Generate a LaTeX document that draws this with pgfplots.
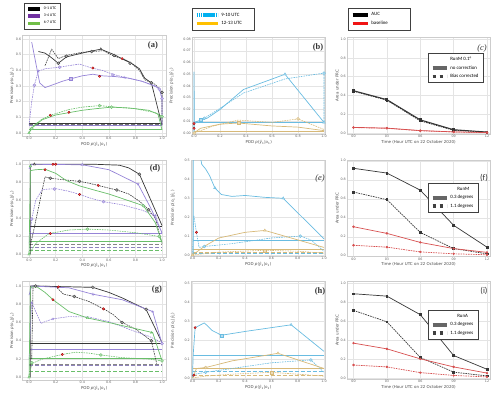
\documentclass[border=0pt]{standalone}
\usepackage{fontspec}
\setmainfont{DejaVu Sans}
\newfontfamily\calibri{Carlito}
\newfontfamily\tnr{Liberation Serif}
\usepackage{pgfplots}
\pgfplotsset{compat=1.18}
\definecolor{cblk}{RGB}{55,55,55}
\definecolor{cpur}{RGB}{150,132,215}
\definecolor{cgrn}{RGB}{105,190,105}
\definecolor{ccya}{RGB}{105,188,225}
\definecolor{cgold}{RGB}{215,185,120}
\definecolor{cred}{RGB}{215,80,80}
\definecolor{lpur}{RGB}{112,48,160}
\definecolor{lgrn}{RGB}{112,190,71}
\definecolor{lcya}{RGB}{0,176,240}
\definecolor{lgold}{RGB}{255,192,0}
\definecolor{lred}{RGB}{240,20,20}
\definecolor{gridc}{RGB}{228,228,228}
\definecolor{framec}{RGB}{205,205,205}
\newcommand{\POD}{POD \textit{p}(\textit{ŷ}\textsubscript{1}|\textit{o}\textsubscript{1})}
\newcommand{\PREC}{Precision \textit{p}(\textit{o}\textsubscript{1}|\textit{ŷ}\textsubscript{1})}
\tikzset{PL/.style={font=\tnr\bfseries\fontsize{8.5}{9}\selectfont, text=black!80}}
\pgfplotsset{
  base/.style={scale only axis, anchor=south west,
    axis line style={framec, line width=0.5pt},
    grid=major, grid style={gridc, line width=0.4pt},
    major tick length=0pt,
    tick label style={font=\fontsize{3.3}{4}\selectfont, text=black!60, inner sep=1pt},
    /pgf/number format/assume math mode=true,
    label style={font=\fontsize{4}{5}\selectfont, text=black!70, inner sep=0.6pt},
    xlabel style={yshift=-0.6pt},
    scaled ticks=false, clip=true,
    xticklabel style={/pgf/number format/fixed, /pgf/number format/fixed zerofill, /pgf/number format/precision=1},
    yticklabel style={/pgf/number format/fixed, /pgf/number format/fixed zerofill, /pgf/number format/precision=1},
    legend cell align=left,
  },
  prc/.style={base, xtick={0,0.2,0.4,0.6,0.8,1.0},
    xlabel={\POD}, ylabel={\PREC}},
  c1/.style={prc, xmin=-0.05, xmax=1.03, width=143.6pt},
  c2/.style={prc, xmin=-0.0114, xmax=1.0114, width=134.5pt, ylabel shift=8pt},
  auc/.style={base, xmin=-0.584, xmax=12.27, width=143pt,
    xtick={0,3,6,9,12}, xticklabels={00,03,06,09,12},
    ytick={0,0.2,0.4,0.6,0.8,1.0},
    xlabel={Time (Hour UTC on 22 October 2020)}, ylabel={Area under PRC},
    legend image code/.code={\draw[#1, line width=3.5pt] (0pt,0pt) -- (14pt,0pt);},
    legend style={anchor=north west, font=\calibri\fontsize{4.9}{5.6}\selectfont, draw=black!75, line width=0.7pt, inner xsep=2.5pt, inner ysep=2pt, row sep=-0.6pt}},
  S/.style={line width=0.7pt, no marks, forget plot, line join=round},
  D/.style={line width=0.6pt, dash pattern=on 1.6pt off 0.9pt, no marks, forget plot},
  BS/.style={line width=0.9pt, no marks, forget plot},
  BD/.style={line width=1.1pt, dash pattern=on 4pt off 2pt, no marks, forget plot},
  MK/.style={only marks, forget plot, mark size=1.5pt, mark options={solid, line width=0.35pt}},
  RM/.style={MK, mark=*, mark size=1.2pt, draw=red!60!black, fill=red!70},
  AS/.style={line width=0.7pt, forget plot, mark=square*, mark size=0.9pt},
  AD/.style={line width=0.7pt, forget plot, dash pattern=on 1.6pt off 0.9pt, mark=square*, mark size=0.9pt, mark options={solid}},
}
\begin{document}
\begin{tikzpicture}
\useasboundingbox (0,0) rectangle (500pt,397pt);
% ---------------- (a)
\begin{axis}[c1, at={(22.4pt,261pt)}, height=100.5pt, ymin=-0.0191, ymax=0.6223,
  ytick={0,0.1,0.2,0.3,0.4,0.5,0.6},
  legend image code/.code={\draw[#1, line width=3.5pt] (0pt,0pt) -- (12pt,0pt);},
  legend style={at={(0.011,1.323)}, anchor=north west, font=\calibri\fontsize{3.9}{4.5}\selectfont, draw=black!75, line width=0.7pt, inner xsep=2pt, inner ysep=1.5pt, row sep=-0.8pt}]
\addlegendimage{black}\addlegendentry{0-1 UTC}
\addlegendimage{lpur}\addlegendentry{3-4 UTC}
\addlegendimage{lgrn}\addlegendentry{6-7 UTC}
\addplot[BS, cblk] coordinates {(0,0.06)(1,0.06)};
\addplot[BD, cblk!70] coordinates {(0,0.055)(1,0.055)};
\addplot[BS, cpur] coordinates {(0,0.05)(1,0.05)};
\addplot[BD, cpur!80!gray] coordinates {(0,0.048)(1,0.048)};
\addplot[BS, cgrn] coordinates {(0,0.02)(1,0.02)};
\addplot[BD, cgrn] coordinates {(0,0.025)(1,0.025)};
\addplot[S, cblk] coordinates {(0.07,0.52)(0.12,0.51)(0.17,0.48)(0.22,0.445)(0.28,0.485)(0.35,0.50)(0.45,0.52)(0.54,0.535)(0.64,0.50)(0.72,0.465)(0.78,0.44)(0.83,0.41)(0.87,0.35)(0.92,0.32)(1.0,0.05)};
\addplot[D, cblk] coordinates {(0.12,0.43)(0.17,0.535)(0.22,0.475)(0.28,0.495)(0.4,0.515)(0.47,0.52)(0.56,0.525)(0.64,0.49)(0.72,0.47)(0.77,0.445)(0.83,0.40)(0.87,0.34)(0.95,0.31)(1.0,0.26)(1.0,0.05)};
\addplot[S, cpur] coordinates {(0.02,0.58)(0.05,0.45)(0.08,0.32)(0.12,0.29)(0.17,0.305)(0.25,0.33)(0.31,0.345)(0.4,0.365)(0.48,0.375)(0.55,0.365)(0.65,0.36)(0.75,0.35)(0.85,0.33)(0.95,0.30)(0.98,0.28)(1.0,0.22)(1.0,0.05)};
\addplot[D, cpur] coordinates {(0.0,0.05)(0.02,0.2)(0.04,0.305)(0.07,0.395)(0.12,0.41)(0.23,0.42)(0.3,0.43)(0.38,0.44)(0.47,0.415)(0.55,0.40)(0.63,0.375)(0.72,0.355)(0.85,0.33)(0.98,0.285)(1.0,0.22)};
\addplot[S, cgrn] coordinates {(0.0,0.0)(0.02,0.03)(0.06,0.06)(0.1,0.085)(0.2,0.115)(0.3,0.13)(0.4,0.145)(0.5,0.155)(0.62,0.165)(0.75,0.16)(0.9,0.145)(0.97,0.12)(1.0,0.02)};
\addplot[D, cgrn] coordinates {(0.0,0.0)(0.03,0.045)(0.1,0.09)(0.16,0.113)(0.3,0.15)(0.4,0.165)(0.53,0.175)(0.65,0.165)(0.8,0.155)(0.95,0.13)(1.0,0.105)};
\addplot[MK, mark=*, draw=cblk, fill=cblk!45] coordinates {(0.22,0.445)(0.28,0.49)(0.47,0.52)(0.64,0.495)(0.76,0.445)(0.92,0.32)(1.0,0.26)};
\addplot[MK, mark=triangle*, draw=cblk, fill=cblk!45] coordinates {(0.54,0.535)};
\addplot[MK, mark=*, draw=cpur, fill=cpur!50] coordinates {(0.04,0.305)(0.23,0.42)(0.63,0.37)(0.98,0.28)(1.0,0.22)};
\addplot[MK, mark=star, draw=cpur] coordinates {(0.07,0.395)(0.72,0.355)};
\addplot[MK, mark=square*, draw=cpur, fill=cpur!50] coordinates {(0.31,0.345)};
\addplot[MK, mark=*, draw=cgrn, fill=cgrn!50] coordinates {(0.02,0.03)(0.53,0.175)(0.62,0.165)(1.0,0.105)};
\addplot[MK, mark=triangle*, draw=cgrn, fill=cgrn!50] coordinates {(0,0)};
\addplot[RM] coordinates {(0.7,0.475)(0.48,0.415)(0.53,0.362)(0.16,0.113)(0.3,0.132)};
\node[PL] at (rel axis cs:0.909,0.905) {(a)};
\end{axis}
% ---------------- (b)
\begin{axis}[prc, at={(192pt,263pt)}, width=133.5pt, height=96.5pt, ylabel shift=8pt,
  xmin=-0.0154, xmax=1.0115, ymin=-0.00085, ymax=0.08128,
  ytick={0,0.01,0.02,0.03,0.04,0.05,0.06,0.07,0.08},
  yticklabel style={/pgf/number format/precision=2},
  legend image code/.code={\draw[#1, line width=3.5pt] (0pt,0pt) -- (21pt,0pt);},
  legend style={at={(0,1.306)}, anchor=north west, font=\calibri\fontsize{4.9}{5.6}\selectfont, draw=black!75, line width=0.7pt, inner xsep=2.5pt, inner ysep=2.5pt, row sep=-0.3pt}]
\addlegendimage{lcya, dash pattern=on 1.6pt off 0.5pt}\addlegendentry{\makebox[28pt][l]{9-10 UTC}}
\addlegendimage{lgold}\addlegendentry{\makebox[28pt][l]{12-13 UTC}}
\addplot[BS, ccya] coordinates {(0,0.009)(1,0.009)};
\addplot[BD, ccya] coordinates {(0,0.0088)(1,0.0088)};
\addplot[BS, cgold] coordinates {(0,0.0015)(1,0.0015)};
\addplot[BD, cgold] coordinates {(0,0.001)(1,0.001)};
\addplot[S, ccya] coordinates {(0,0)(0,0.052)(0.003,0.009)(0.05,0.011)(0.1,0.0125)(0.2,0.02)(0.38,0.037)(0.7,0.05)(1.0,0.009)};
\addplot[D, ccya] coordinates {(0,0)(0,0.008)(0.05,0.0105)(0.1,0.014)(0.2,0.021)(0.38,0.034)(0.7,0.046)(1.0,0.051)(1.0,0.009)};
\addplot[S, cgold] coordinates {(0,0)(0.05,0.004)(0.2,0.0075)(0.34,0.0085)(0.6,0.006)(0.8,0.005)(1.0,0.002)};
\addplot[D, cgold] coordinates {(0,0)(0.15,0.006)(0.34,0.011)(0.6,0.009)(0.8,0.012)(1.0,0.003)};
\addplot[MK, mark=square*, draw=ccya, fill=ccya!50] coordinates {(0.05,0.011)};
\addplot[MK, mark=*, draw=ccya, fill=ccya!50] coordinates {(0.08,0.0125)(1.0,0.051)};
\addplot[MK, mark=triangle*, draw=ccya, fill=ccya!50] coordinates {(0.7,0.05)(1.0,0.009)};
\addplot[MK, mark=square*, draw=cgold, fill=cgold!50] coordinates {(0.34,0.0085)};
\addplot[MK, mark=*, draw=cgold, fill=cgold!50] coordinates {(0.8,0.012)(0,0)};
\addplot[RM] coordinates {(0.0,0.008)(0.0,0.004)};
\node[PL] at (rel axis cs:0.944,0.90) {(b)};
\end{axis}
% ---------------- (c)
\begin{axis}[auc, at={(347pt,263pt)}, height=96.5pt, ymin=-0.0106, ymax=1.016,
  legend style={at={(0.566,0.839)}}]
\addlegendimage{empty legend}\addlegendentry{RunM 0.1°}
\addlegendimage{black!60}\addlegendentry{no correction}
\addlegendimage{black!75, dash pattern=on 3.5pt off 3.5pt}\addlegendentry{Bias corrected}
\addplot[AS, cblk, line width=1pt] coordinates {(0,0.45)(3,0.355)(6,0.14)(9,0.035)(12,0.01)};
\addplot[AD, black!80, line width=0.9pt] coordinates {(0,0.445)(3,0.35)(6,0.13)(9,0.03)(12,0.008)};
\addplot[AS, cred, mark=*, mark size=0.8pt] coordinates {(0,0.06)(3,0.052)(6,0.026)(9,0.012)(12,0.005)};
\addplot[AD, cred, mark=*, mark size=0.8pt] coordinates {(0,0.058)(3,0.05)(6,0.024)(9,0.011)(12,0.004)};
\node[font=\tnr\itshape\fontsize{8.5}{9}\selectfont, text=black!80] at (rel axis cs:0.944,0.89) {(c)};
\end{axis}
\begin{axis}[scale only axis, anchor=south west, at={(347pt,263pt)}, width=143pt, height=96.5pt, hide axis, xmin=0, xmax=1, ymin=0, ymax=1,
  legend cell align=left,
  legend image code/.code={\draw[#1, line width=3.5pt] (0pt,0pt) -- (15pt,0pt);},
  legend style={at={(0.007,1.306)}, anchor=north west, font=\calibri\fontsize{4.9}{5.6}\selectfont, draw=black!75, line width=0.7pt, inner xsep=2.5pt, inner ysep=2.5pt, row sep=-0.3pt}]
\addlegendimage{black}\addlegendentry{\makebox[34pt][l]{AUC}}
\addlegendimage{lred}\addlegendentry{\makebox[34pt][l]{baseline}}
\end{axis}
% ---------------- (d)
\begin{axis}[c1, at={(22.4pt,139.5pt)}, height=97.5pt, ymin=-0.0356, ymax=1.0478,
  ytick={0,0.2,0.4,0.6,0.8,1.0}]
\addplot[BS, cblk] coordinates {(0,0.305)(1,0.305)};
\addplot[BS, cpur] coordinates {(0,0.235)(1,0.235)};
\addplot[BS, cgrn] coordinates {(0,0.14)(1,0.14)};
\addplot[BD, cblk!60] coordinates {(0,0.11)(1,0.11)};
\addplot[BD, cpur!70!gray] coordinates {(0,0.08)(1,0.08)};
\addplot[BD, cgrn] coordinates {(0,0.045)(1,0.045)};
\addplot[S, cblk] coordinates {(0.01,0.0)(0.01,1.0)(0.2,1.0)(0.5,1.0)(0.68,0.99)(0.75,0.96)(0.83,0.89)(1.0,0.32)};
\addplot[D, cblk] coordinates {(0.01,0.1)(0.04,0.3)(0.12,0.86)(0.16,0.845)(0.25,0.83)(0.38,0.81)(0.45,0.79)(0.52,0.765)(0.6,0.735)(0.66,0.715)(0.75,0.67)(0.83,0.59)(0.9,0.495)(0.95,0.40)(1.0,0.12)};
\addplot[S, cpur] coordinates {(0.0,0.95)(0.02,1.0)(0.4,0.995)(0.6,0.94)(0.82,0.78)(0.92,0.5)(1.0,0.24)};
\addplot[D, cpur] coordinates {(0.0,0.12)(0.02,0.39)(0.05,0.6)(0.1,0.72)(0.2,0.73)(0.3,0.70)(0.38,0.665)(0.47,0.62)(0.56,0.585)(0.7,0.55)(0.85,0.49)(0.95,0.43)(1.0,0.23)};
\addplot[S, cgrn] coordinates {(0.0,0.0)(0.01,0.93)(0.05,0.94)(0.12,0.945)(0.2,0.9)(0.28,0.82)(0.38,0.76)(0.5,0.71)(0.6,0.67)(0.72,0.61)(0.86,0.54)(0.95,0.35)(1.0,0.13)};
\addplot[D, cgrn] coordinates {(0.0,0.0)(0.05,0.12)(0.15,0.23)(0.3,0.27)(0.44,0.28)(0.6,0.27)(0.8,0.24)(0.97,0.2)(1.0,0.14)};
\addplot[MK, mark=*, draw=cblk, fill=cblk!45] coordinates {(0.16,0.845)(0.38,0.81)(0.66,0.715)(0.83,0.89)(0.9,0.495)};
\addplot[MK, mark=triangle*, draw=cblk, fill=cblk!45] coordinates {(0.04,1.0)};
\addplot[MK, mark=*, draw=cpur, fill=cpur!50] coordinates {(0.02,0.39)(0.19,0.725)(0.56,0.585)};
\addplot[MK, mark=triangle*, draw=cpur, fill=cpur!50] coordinates {(0.4,0.995)};
\addplot[MK, mark=star, draw=cpur] coordinates {(0.82,0.78)(0.95,0.43)};
\addplot[MK, mark=*, draw=cgrn, fill=cgrn!50] coordinates {(0.86,0.54)(0.44,0.28)(0.98,0.2)};
\addplot[MK, mark=triangle*, draw=cgrn, fill=cgrn!50] coordinates {(0,0)(0.01,0.98)};
\addplot[RM] coordinates {(0.2,1.0)(0.18,1.0)(0.52,0.765)(0.38,0.665)(0.12,0.94)(0.16,0.23)};
\node[PL] at (rel axis cs:0.923,0.918) {(d)};
\end{axis}
% ---------------- (e)
\begin{axis}[c2, at={(191pt,141pt)}, height=96pt, ymin=-0.0053, ymax=0.5026,
  ytick={0,0.1,0.2,0.3,0.4,0.5}]
\addplot[BS, ccya] coordinates {(0,0.075)(1,0.075)};
\addplot[BD, ccya] coordinates {(0,0.01)(1,0.01)};
\addplot[BS, cgold] coordinates {(0,0.03)(1,0.03)};
\addplot[BD, cgold] coordinates {(0,0.012)(1,0.012)};
\addplot[S, ccya] coordinates {(0.005,0.0)(0.005,0.55)(0.06,0.52)(0.07,0.48)(0.1,0.455)(0.13,0.42)(0.17,0.355)(0.22,0.32)(0.3,0.31)(0.4,0.315)(0.55,0.305)(0.69,0.30)(1.0,0.085)};
\addplot[D, ccya] coordinates {(0.0,0.0)(0.01,0.21)(0.03,0.12)(0.05,0.04)(0.09,0.045)(0.3,0.06)(0.6,0.09)(0.82,0.10)(0.9,0.08)(1.0,0.02)};
\addplot[S, cgold] coordinates {(0,0)(0.1,0.05)(0.2,0.09)(0.4,0.12)(0.55,0.13)(0.8,0.08)(1.0,0.04)};
\addplot[D, cgold] coordinates {(0,0)(0.2,0.015)(0.55,0.025)(0.8,0.02)(1.0,0.01)};
\addplot[MK, mark=triangle*, draw=ccya, fill=ccya!50] coordinates {(0.17,0.355)(0.69,0.30)};
\addplot[MK, mark=*, draw=ccya, fill=ccya!50] coordinates {(0.09,0.045)(0.82,0.10)};
\addplot[MK, mark=triangle*, draw=cgold, fill=cgold!50] coordinates {(0.55,0.13)(0,0)};
\addplot[MK, mark=square*, draw=cgold, fill=cgold!50] coordinates {(0.55,0.025)};
\addplot[RM] coordinates {(0.03,0.12)};
\node[font=\tnr\itshape\fontsize{8.5}{9}\selectfont, text=black!80] at (rel axis cs:0.959,0.81) {(e)};
\end{axis}
% ---------------- (f)
\begin{axis}[auc, at={(347pt,140.5pt)}, height=96.5pt, ymin=-0.0084, ymax=1.0074,
  legend style={at={(0.566,0.762)}}]
\addlegendimage{empty legend}\addlegendentry{\hspace{7pt}RunM}
\addlegendimage{black!60}\addlegendentry{0.3 degrees}
\addlegendimage{black!75, dash pattern=on 3.5pt off 3.5pt}\addlegendentry{1.1 degrees}
\addplot[AS, cblk] coordinates {(0,0.92)(3,0.87)(6,0.69)(9,0.32)(12,0.09)};
\addplot[AD, cblk] coordinates {(0,0.67)(3,0.59)(6,0.245)(9,0.075)(12,0.02)};
\addplot[AS, cred, mark=*, mark size=0.8pt] coordinates {(0,0.305)(3,0.235)(6,0.14)(9,0.075)(12,0.035)};
\addplot[AD, cred, mark=*, mark size=0.8pt] coordinates {(0,0.11)(3,0.09)(6,0.04)(9,0.02)(12,0.01)};
\node[font=\calibri\fontsize{8.5}{9}\selectfont, text=black!80] at (rel axis cs:0.958,0.81) {(f)};
\end{axis}
% ---------------- (g)
\begin{axis}[c1, at={(22.4pt,17pt)}, height=98.5pt, ymin=-0.0296, ymax=1.0493,
  ytick={0,0.2,0.4,0.6,0.8,1.0}]
\addplot[BS, cblk] coordinates {(0,0.37)(1,0.37)};
\addplot[BS, cpur] coordinates {(0,0.305)(1,0.305)};
\addplot[BS, cgrn] coordinates {(0,0.205)(1,0.205)};
\addplot[BD, cblk!60] coordinates {(0,0.14)(1,0.14)};
\addplot[BD, cpur!70!gray] coordinates {(0,0.13)(1,0.13)};
\addplot[BD, cgrn] coordinates {(0,0.06)(1,0.06)};
\addplot[S, cblk] coordinates {(0.01,0.0)(0.01,1.0)(0.05,1.0)(0.48,0.985)(0.6,0.93)(0.7,0.87)(0.88,0.745)(1.0,0.38)};
\addplot[D, cblk] coordinates {(0.02,0.2)(0.03,1.0)(0.2,0.995)(0.26,0.91)(0.34,0.885)(0.45,0.83)(0.56,0.75)(0.63,0.69)(0.7,0.60)(0.8,0.53)(0.92,0.40)(0.96,0.15)};
\addplot[S, cpur] coordinates {(0.0,0.9)(0.02,1.0)(0.3,0.98)(0.48,0.91)(0.7,0.85)(0.93,0.72)(1.0,0.37)};
\addplot[D, cpur] coordinates {(0.0,0.2)(0.02,0.82)(0.05,0.72)(0.09,0.59)(0.12,0.61)(0.18,0.64)(0.3,0.665)(0.45,0.66)(0.6,0.61)(0.7,0.555)(0.8,0.50)(0.9,0.45)(1.0,0.38)};
\addplot[S, cgrn] coordinates {(0.0,0.0)(0.01,0.99)(0.06,0.99)(0.12,0.93)(0.18,0.85)(0.3,0.72)(0.44,0.65)(0.6,0.6)(0.75,0.55)(0.93,0.49)(1.0,0.18)};
\addplot[D, cgrn] coordinates {(0.0,0.0)(0.02,0.15)(0.1,0.2)(0.25,0.25)(0.35,0.275)(0.45,0.265)(0.54,0.245)(0.7,0.215)(0.9,0.2)(1.0,0.18)};
\addplot[MK, mark=*, draw=cblk, fill=cblk!45] coordinates {(0.05,1.0)(0.34,0.885)(0.48,0.985)(0.7,0.60)(0.88,0.745)(0.92,0.40)};
\addplot[MK, mark=star, draw=cpur] coordinates {(0.02,0.82)(0.18,0.64)(0.48,0.91)(0.93,0.72)};
\addplot[MK, mark=*, draw=cpur, fill=cpur!50] coordinates {(1.0,0.37)};
\addplot[MK, mark=triangle*, draw=cgrn, fill=cgrn!50] coordinates {(0,0)(0.44,0.65)};
\addplot[MK, mark=star, draw=cgrn] coordinates {(0.92,0.49)};
\addplot[MK, mark=*, draw=cgrn, fill=cgrn!50] coordinates {(0.54,0.245)(1.0,0.18)(0.02,0.16)};
\addplot[RM] coordinates {(0.22,0.99)(0.56,0.75)(0.18,0.85)(0.25,0.25)};
\node[PL] at (rel axis cs:0.937,0.914) {(g)};
\end{axis}
% ---------------- (h)
\begin{axis}[c2, at={(191pt,18pt)}, height=97.5pt, ymin=-0.0053, ymax=0.5079,
  ytick={0,0.1,0.2,0.3,0.4,0.5}]
\addplot[BS, ccya] coordinates {(0,0.12)(1,0.12)};
\addplot[BD, ccya] coordinates {(0,0.035)(1,0.035)};
\addplot[BS, cgold] coordinates {(0,0.05)(1,0.05)};
\addplot[BD, cgold] coordinates {(0,0.015)(1,0.015)};
\addplot[S, ccya] coordinates {(0.0,0.0)(0.005,0.12)(0.02,0.265)(0.09,0.29)(0.15,0.25)(0.22,0.225)(0.4,0.245)(0.75,0.28)(1.0,0.14)};
\addplot[D, ccya] coordinates {(0.0,0.0)(0.02,0.02)(0.1,0.03)(0.3,0.05)(0.6,0.08)(0.9,0.095)(1.0,0.03)};
\addplot[S, cgold] coordinates {(0,0)(0.03,0.05)(0.1,0.055)(0.3,0.09)(0.65,0.13)(1.0,0.05)};
\addplot[D, cgold] coordinates {(0,0)(0.1,0.01)(0.3,0.02)(0.6,0.03)(1.0,0.01)};
\addplot[MK, mark=square*, draw=ccya, fill=ccya!50] coordinates {(0.22,0.225)};
\addplot[MK, mark=triangle*, draw=ccya, fill=ccya!50] coordinates {(0.75,0.28)};
\addplot[MK, mark=*, draw=ccya, fill=ccya!50] coordinates {(0.9,0.095)(0.1,0.03)};
\addplot[MK, mark=triangle*, draw=cgold, fill=cgold!50] coordinates {(0.65,0.13)};
\addplot[MK, mark=square*, draw=cgold, fill=cgold!50] coordinates {(0.6,0.03)};
\addplot[MK, mark=*, draw=cgold, fill=cgold!50] coordinates {(0.1,0.055)};
\addplot[RM] coordinates {(0.02,0.265)(0.01,0.015)};
\node[PL] at (rel axis cs:0.959,0.90) {(h)};
\end{axis}
% ---------------- (i)
\begin{axis}[auc, at={(347pt,18pt)}, height=97.5pt, ymin=-0.0074, ymax=1.019,
  legend style={at={(0.566,0.708)}}]
\addlegendimage{empty legend}\addlegendentry{\hspace{7pt}RunA}
\addlegendimage{black!60}\addlegendentry{0.3 degrees}
\addlegendimage{black!75, dash pattern=on 3.5pt off 3.5pt}\addlegendentry{1.1 degrees}
\addplot[AS, cblk] coordinates {(0,0.89)(3,0.865)(6,0.67)(9,0.24)(12,0.095)};
\addplot[AD, cblk] coordinates {(0,0.715)(3,0.595)(6,0.22)(9,0.065)(12,0.025)};
\addplot[AS, cred, mark=*, mark size=0.8pt] coordinates {(0,0.37)(3,0.31)(6,0.205)(9,0.12)(12,0.055)};
\addplot[AD, cred, mark=*, mark size=0.8pt] coordinates {(0,0.14)(3,0.12)(6,0.06)(9,0.03)(12,0.015)};
\node[font=\calibri\fontsize{8.5}{9}\selectfont, text=black!80] at (rel axis cs:0.958,0.90) {(i)};
\end{axis}
\end{tikzpicture}
\end{document}
